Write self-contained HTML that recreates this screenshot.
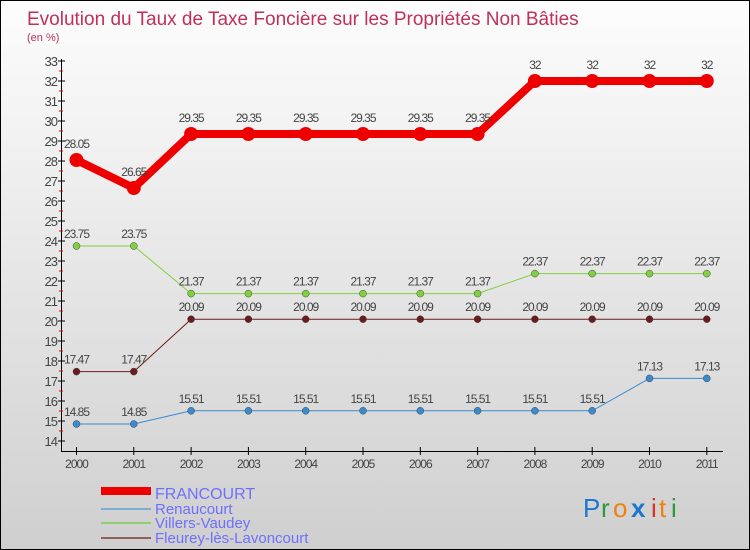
<!DOCTYPE html>
<html><head><meta charset="utf-8"><style>
body{margin:0}
#c{width:748px;height:548px;border:1px solid #000;position:relative;background:linear-gradient(#fdfdfd,#cfcfcf);overflow:hidden;font-family:"Liberation Sans",sans-serif}
</style></head><body>
<div id="c">
<svg id="s" width="748" height="548">
<text x="26" y="24" font-size="19" fill="#c0305a">Evolution du Taux de Taxe Foncière sur les Propriétés Non Bâties</text>
<text x="26" y="40" font-size="11" fill="#c0305a">(en %)</text>
<g id="g"></g>
<rect x="100" y="486" width="50" height="8" fill="#e00"/>
<rect x="100" y="507" width="50" height="2" fill="#7aaed0"/>
<rect x="100" y="521" width="50" height="2" fill="#90d070"/>
<rect x="100" y="536" width="50" height="2" fill="#906060"/>
<g font-size="15" fill="#6f6fff">
<text x="154" y="498" font-size="16">FRANCOURT</text>
<text x="154" y="513">Renaucourt</text>
<text x="154" y="527">Villers-Vaudey</text>
<text x="154" y="542">Fleurey-lès-Lavoncourt</text>
</g>
<g font-size="26">
<text x="582" y="516" fill="#1a78d0">P</text><text x="600" y="516" fill="#2a9a3a">r</text><text x="612" y="516" fill="#f08010">o</text><text x="630" y="516" fill="#1a78d0" font-weight="bold">x</text><text x="650" y="516" fill="#e03020">i</text><text x="658" y="516" fill="#f08010">t</text><text x="670" y="516" fill="#2a9a3a">i</text>
</g>
</svg>
</div>
<script>
const years=["2000","2001","2002","2003","2004","2005","2006","2007","2008","2009","2010","2011"];
const francourt=[28.05,26.65,29.35,29.35,29.35,29.35,29.35,29.35,32,32,32,32];
const renaucourt=[14.85,14.85,15.51,15.51,15.51,15.51,15.51,15.51,15.51,15.51,17.13,17.13];
const villers=[23.75,23.75,21.37,21.37,21.37,21.37,21.37,21.37,22.37,22.37,22.37,22.37];
const fleurey=[17.47,17.47,20.09,20.09,20.09,20.09,20.09,20.09,20.09,20.09,20.09,20.09];
const yTicks=[14,15,16,17,18,19,20,21,22,23,24,25,26,27,28,29,30,31,32,33];
const fmt=v=>String(v);
const X=i=>75.5+i*57.3, Y=v=>440-(v-14)*20;
const g=document.getElementById('g'),NS='http://www.w3.org/2000/svg';
function el(t,a,name){const e=document.createElementNS(NS,t);for(const k in a)e.setAttribute(k,a[k]);


g.appendChild(e);return e;}
el('line',{x1:60.5,y1:58,x2:60.5,y2:450,stroke:'#000'},'y-axis');
el('line',{x1:60,y1:450.5,x2:722,y2:450.5,stroke:'#000'},'x-axis');
yTicks.forEach(v=>{el('line',{x1:57,x2:64,y1:Y(v),y2:Y(v),stroke:'#000'},'y-tick');
if(v<33)el('line',{x1:58,x2:62,y1:Y(v+0.5),y2:Y(v+0.5),stroke:'#e00'},'y-minor-tick');
const t=el('text',{x:56,y:Y(v)+5,'font-size':13,fill:'#444','text-anchor':'end','letter-spacing':'-1'},'y-tick-label');t.textContent=v;});
years.forEach((y,i)=>{el('line',{x1:X(i),x2:X(i),y1:446,y2:454,stroke:'#000'},'x-tick');
const t=el('text',{x:X(i),y:467,'font-size':12,fill:'#444','text-anchor':'middle','letter-spacing':'-1'},'x-tick-label');t.textContent=y;});
function series(d,col,w,r,name){
el('polyline',{points:d.map((v,i)=>X(i)+','+Y(v)).join(' '),fill:'none',stroke:col,'stroke-width':w},name+'-line');
d.forEach((v,i)=>{el('circle',{cx:X(i),cy:Y(v),r:r,fill:col,stroke:w>3?'none':'#444','stroke-width':0.5},name+'-point');
const t=el('text',{x:X(i),y:Y(v)-8-(w>3?4:0),'font-size':12,fill:'#444','text-anchor':'middle','letter-spacing':'-1'},name+'-value');t.textContent=fmt(v);});}
series(fleurey,'#6a1c1c',1,3.5,'fleurey');
series(renaucourt,'#3a8ad0',1,3.5,'renaucourt');
series(villers,'#80d040',1,3.5,'villers');
series(francourt,'#e00',8,7,'francourt');
</script>
</body></html>
